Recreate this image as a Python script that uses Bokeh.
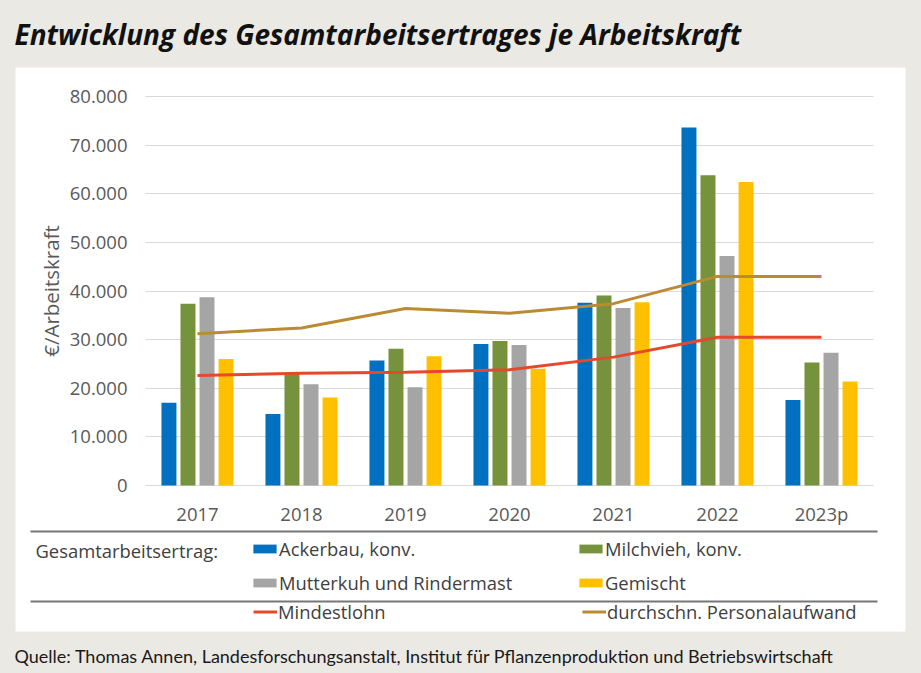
from bokeh.plotting import figure
from bokeh.models import (ColumnDataSource, Range1d, FixedTicker, Legend, LegendItem, Grid,
                          Label, BoxAnnotation, GlobalInlineStyleSheet)
from bokeh.transform import dodge
from bokeh.embed import file_html
from bokeh.resources import INLINE

# ---------------- data ----------------
years = ["2017", "2018", "2019", "2020", "2021", "2022", "2023p"]
ackerbau = [17000, 14700, 25700, 29100, 37600, 73600, 17600]
milchvieh = [37400, 23100, 28100, 29700, 39100, 63800, 25300]
mutterkuh = [38700, 20800, 20200, 28900, 36500, 47200, 27300]
gemischt = [26000, 18100, 26600, 24000, 37700, 62400, 21400]
mindestlohn = [22600, 23100, 23300, 23800, 26400, 30500, 30500]
personalaufwand = [31200, 32400, 36400, 35400, 37400, 43000, 43000]

y_ticks = [0, 10000, 20000, 30000, 40000, 50000, 60000, 70000, 80000]
y_tick_labels = ["0", "10.000", "20.000", "30.000", "40.000", "50.000", "60.000", "70.000", "80.000"]

bar_names = ["Ackerbau, konv.", "Milchvieh, konv.", "Mutterkuh und Rindermast", "Gemischt"]
line_names = ["Mindestlohn", "durchschn. Personalaufwand"]

title_text = "Entwicklung des Gesamtarbeitsertrages je Arbeitskraft"
source_text = "Quelle: Thomas Annen, Landesforschungsanstalt, Institut für Pflanzenproduktion und Betriebswirtschaft"
y_label = "€/Arbeitskraft"
legend_group_label = "Gesamtarbeitsertrag:"

# ---------------- style / geometry (pixels) ----------------
BEIGE = "#EBE9E3"
BAR_COLORS = ["#0070C0", "#76923C", "#A5A5A5", "#FFC000"]
LINE_COLORS = ["#E5482A", "#BA8B32"]
TXT = "#595959"
LEG_TXT = "#404040"
FONT = "Open Sans"
LEG_SIZE = "18.4px"

W, H = 921, 673
CAT0_PX, CAT_STEP_PX = 197.0, 104.0     # page x of first category centre, category pitch
Y0_PX, Y80_PX = 485.0, 96.0              # page y of value 0 and of value 80000
px_per_unit = (Y0_PX - Y80_PX) / 80000.0

x_pos = list(range(len(years)))
x_range = Range1d((0 - CAT0_PX) / CAT_STEP_PX, (W - CAT0_PX) / CAT_STEP_PX)
y_range = Range1d(-(H - Y0_PX) / px_per_unit, Y0_PX / px_per_unit)

source = ColumnDataSource(dict(x=x_pos, ackerbau=ackerbau, milchvieh=milchvieh,
                               mutterkuh=mutterkuh, gemischt=gemischt,
                               mindestlohn=mindestlohn, personalaufwand=personalaufwand))

p = figure(width=W, height=H, x_range=x_range, y_range=y_range,
           output_backend="svg", toolbar_location=None,
           min_border_left=0, min_border_right=0, min_border_top=0, min_border_bottom=0)
p.stylesheets = [GlobalInlineStyleSheet(css="body{background:%s;}" % BEIGE)]
p.border_fill_color = BEIGE
p.background_fill_color = BEIGE
p.outline_line_color = None


def sx(px):
    return px


def sy(py):
    return H - py


# white panel
p.add_layout(BoxAnnotation(left=sx(15), right=sx(905), top=sy(67), bottom=sy(631),
                           left_units="screen", right_units="screen",
                           top_units="screen", bottom_units="screen",
                           fill_color="white", fill_alpha=1, line_color=None, level="image"))

# grid
p.xgrid.grid_line_color = None
p.ygrid.ticker = FixedTicker(ticks=y_ticks)
if "cross_bounds" in Grid.properties():
    p.ygrid.grid_line_color = "#D9D9D9"
    p.ygrid.cross_bounds = (-0.5, len(years) - 0.5)
else:
    p.ygrid.grid_line_color = None
    p.segment(x0=[-0.5] * len(y_ticks), x1=[len(years) - 0.5] * len(y_ticks), y0=y_ticks, y1=y_ticks,
              line_color="#D9D9D9", line_width=1, level="underlay")

# axes (fixed inside the frame)
p.yaxis.ticker = FixedTicker(ticks=y_ticks)
p.yaxis.major_label_overrides = {t: l for t, l in zip(y_ticks, y_tick_labels)}
p.xaxis.ticker = FixedTicker(ticks=x_pos)
p.xaxis.major_label_overrides = {i: y for i, y in zip(x_pos, years)}
p.yaxis.fixed_location = -0.5
p.xaxis.fixed_location = 0
p.yaxis.bounds = (y_ticks[0], y_ticks[-1])
p.xaxis.bounds = (-0.5, len(years) - 0.5)
for ax in (p.xaxis, p.yaxis):
    ax.axis_line_color = None
    ax.major_tick_line_color = None
    ax.minor_tick_line_color = None
    ax.major_tick_out = 0
    ax.major_tick_in = 0
    ax.major_label_text_font = FONT
    ax.major_label_text_font_size = "18.5px"
    ax.major_label_text_color = TXT
p.yaxis.major_label_standoff = 18
p.xaxis.major_label_standoff = 15
p.yaxis.axis_label = y_label
p.yaxis.axis_label_text_font = FONT
p.yaxis.axis_label_text_font_size = "20.5px"
p.yaxis.axis_label_text_font_style = "normal"
p.yaxis.axis_label_text_color = TXT
p.yaxis.axis_label_standoff = 2

# bars
pitch = 0.183
width = 0.144
cols = ["ackerbau", "milchvieh", "mutterkuh", "gemischt"]
bar_renderers = []
for i, (c, col) in enumerate(zip(cols, BAR_COLORS)):
    r = p.vbar(x=dodge("x", (i - 1.5) * pitch), top=c, width=width,
               source=source, fill_color=col, line_color=None)
    bar_renderers.append(r)

# lines
line_renderers = []
for c, col in zip(["mindestlohn", "personalaufwand"], LINE_COLORS):
    r = p.line(x="x", y=c, source=source, line_color=col, line_width=3)
    line_renderers.append(r)

# separators
for py in (530, 600):
    p.add_layout(BoxAnnotation(left=sx(30), right=sx(877), top=sy(py), bottom=sy(py + 2),
                               left_units="screen", right_units="screen",
                               top_units="screen", bottom_units="screen",
                               fill_color="#767676", fill_alpha=1, line_color=None))

# legends
leg1 = Legend(items=[LegendItem(label=n, renderers=[r]) for n, r in zip(bar_names, bar_renderers)],
              location=(sx(250), sy(594.5)), orientation="horizontal", ncols=2,
              glyph_width=29, glyph_height=11, label_standoff=0, label_width=288, label_height=20,
              spacing=9, padding=0, margin=0, border_line_color=None, background_fill_alpha=0,
              label_text_font=FONT, label_text_font_size=LEG_SIZE, label_text_color=LEG_TXT)
leg2 = Legend(items=[LegendItem(label=n, renderers=[r]) for n, r in zip(line_names, line_renderers)],
              location=(sx(253), sy(624.3)), orientation="horizontal", ncols=2,
              glyph_width=24, glyph_height=11, label_standoff=1, label_width=292, label_height=20,
              spacing=12, padding=0, margin=0, border_line_color=None, background_fill_alpha=0,
              label_text_font=FONT, label_text_font_size=LEG_SIZE, label_text_color=LEG_TXT)
p.add_layout(leg1)
p.add_layout(leg2)

p.add_layout(Label(x=sx(35), y=sy(550), x_units="screen", y_units="screen", text=legend_group_label,
                   text_font=FONT, text_font_size=LEG_SIZE, text_color=LEG_TXT, text_baseline="middle"))

# title and source
p.add_layout(Label(x=sx(14), y=sy(33), x_units="screen", y_units="screen", text=title_text,
                   text_font=FONT, text_font_size="28px", text_font_style="bold italic",
                   text_color="#111111", text_baseline="middle"))
p.add_layout(Label(x=sx(14), y=sy(655), x_units="screen", y_units="screen", text=source_text,
                   text_font="Lato", text_font_size="18px", text_color="#1A1A1A", text_baseline="middle"))

open("out.html", "w").write(file_html(p, INLINE))
